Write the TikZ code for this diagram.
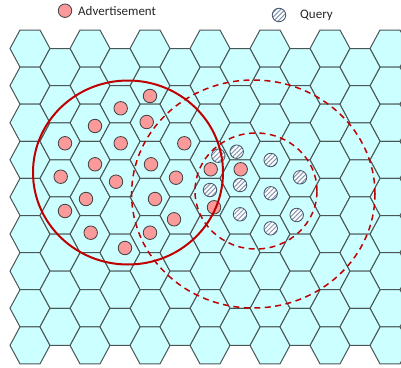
\documentclass[tikz,border=0pt]{standalone}
\usepackage{fontspec}
\setmainfont{Carlito}
\usetikzlibrary{patterns.meta}
\definecolor{hexfill}{HTML}{CCFFFF}
\definecolor{hexline}{HTML}{4A5555}
\definecolor{adfill}{HTML}{FA9A9A}
\definecolor{adline}{HTML}{404040}
\definecolor{qline}{HTML}{44546A}
\definecolor{qhatch}{HTML}{8497B0}
\definecolor{rangered}{HTML}{C00000}
\begin{document}
\begin{tikzpicture}[x=1pt,y=-1pt,
  hexcell/.style={fill=hexfill,draw=hexline,line width=1pt,line join=miter},
  adv/.style={circle,fill=adfill,draw=adline,line width=0.8pt,inner sep=0pt,minimum size=13.5pt},
  qry/.style={circle,draw=qline,line width=0.8pt,inner sep=0pt,minimum size=13.5pt,
    preaction={fill=white},pattern={Lines[angle=45,distance=3.2pt,line width=1pt]},pattern color=qhatch},
  legendtext/.style={anchor=west,inner sep=0pt,font=\fontsize{13}{15}\selectfont,text=black!85},
  solidrange/.style={draw=rangered,line width=2pt},
  dashrange/.style={draw=rangered,line width=1.5pt,dash pattern=on 6pt off 4.5pt}]
\useasboundingbox (0,0) rectangle (401,367);
\begin{scope}
\clip (0,0) rectangle (401,367);
\foreach \i in {0,2,...,12} \foreach \k in {0,...,8} {
  \draw[hexcell] ({50+30*\i},{48.55+37.1*\k}) -- ++(-10,-18.55) -- ++(-20,0) -- ++(-10,18.55) -- ++(10,18.55) -- ++(20,0) -- cycle;}
\foreach \i in {1,3,...,11} \foreach \k in {0,...,7} {
  \draw[hexcell] ({50+30*\i},{67.1+37.1*\k}) -- ++(-10,-18.55) -- ++(-20,0) -- ++(-10,18.55) -- ++(10,18.55) -- ++(20,0) -- cycle;}
\end{scope}
% legend
\node[adv] (legad) at (65,10.7) {};
\node[legendtext] (legadtext) at (78,10.7) {Advertisement};
\node[qry] (legq) at (279,15) {};
\node[legendtext] (legqtext) at (300,15) {Query};
% advertisements
\foreach \x/\y [count=\n] in {150/96, 120.7/108.3, 146.7/122, 95/126, 65/143.3, 120.7/143.3, 184.3/143.3,
  95/164.3, 151/164.3, 60.7/176.7, 116/181.7, 176/177.7, 210.7/169.3, 240.7/169.3, 86/199, 155/199,
  65/211, 214/207.3, 174/219.3, 90.7/232.7, 150/232.7, 125/248}
  {\node[adv] (ad\n) at (\x,\y) {};}
% queries
\foreach \x/\y [count=\n] in {218.3/155.7, 236.7/151.7, 270.7/160, 300/177.3, 210/190, 240/185,
  270.7/193.3, 240/214.3, 296.7/215, 270.7/228.3}
  {\node[qry] (q\n) at (\x,\y) {};}
% ranges
\draw[solidrange] (128,172.5) ellipse [x radius=95pt, y radius=92pt];
\draw[dashrange] (253.3,194) ellipse [x radius=121.7pt, y radius=114pt];
\draw[dashrange] (256,191) ellipse [x radius=61pt, y radius=58pt];
\end{tikzpicture}
\end{document}
